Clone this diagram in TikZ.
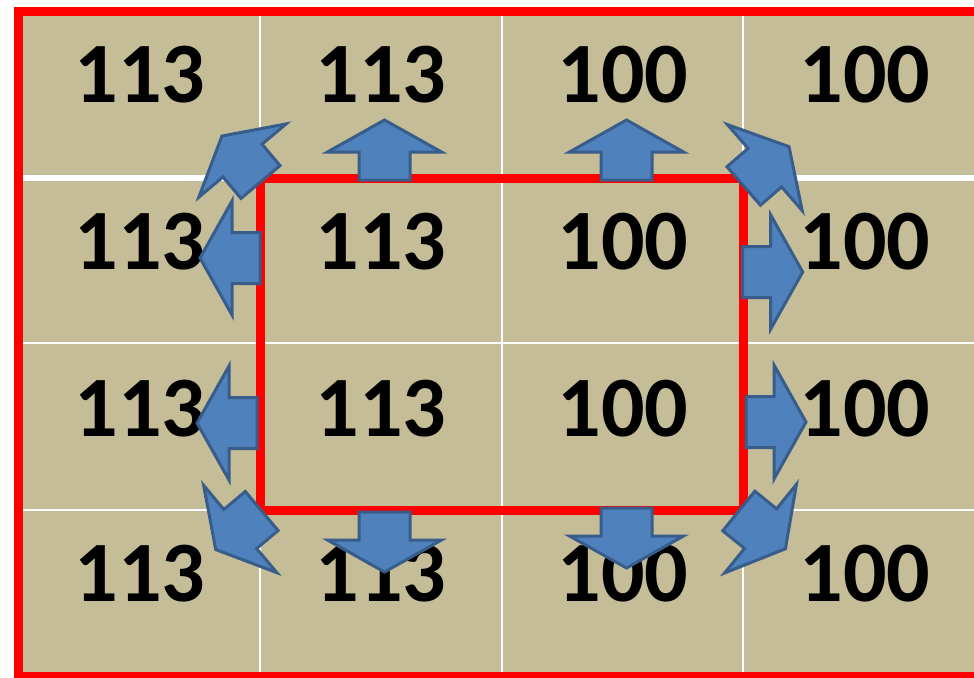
\documentclass[tikz,border=0pt]{standalone}
\usepackage{fontspec}
\setmainfont{Carlito}
\usepackage{xcolor}
\definecolor{cellTan}{HTML}{C4BD97}
\definecolor{arrowBlue}{HTML}{4F81BD}
\definecolor{arrowEdge}{HTML}{385D8A}

\tikzset{
  cellnum/.style={font=\fontsize{86}{90}\selectfont\bfseries, inner sep=0pt, text=black},
  blockarrow/.style={fill=arrowBlue, draw=arrowEdge, line width=3pt, line join=miter},
}

\begin{document}
\begin{tikzpicture}[x=1pt,y=-1pt]
  \useasboundingbox (0,0) rectangle (974,677);
  \clip (0,0) rectangle (974,677);

  % cells
  \fill[cellTan] (18,12) rectangle (986,676);

  % white grid lines
  \foreach \x in {260,502,743}
    \draw[white, line width=2.5pt] (\x,12) -- (\x,676);
  \draw[white, line width=6.5pt] (18,178) -- (986,178);
  \foreach \y in {343,510}
    \draw[white, line width=2.5pt] (18,\y) -- (986,\y);

  % outer and inner red frames
  \draw[red, line width=9pt] (18,12) rectangle (986,676);
  \draw[red, line width=9pt] (260,178) rectangle (743,510);

  % values
  \foreach \c/\x/\v in {1/140/113, 2/381/113, 3/623/100, 4/865/100}
    \foreach \r/\y in {1/75, 2/242, 3/409, 4/574}
      \node[cellnum] (n\r\c) at (\x,\y) {\v};

  % arrows: tail point and direction
  \foreach \x/\y/\a in {384.5/180/90, 626.5/180/90,
                        384.5/512/-90, 626.5/508/-90,
                        260/258/180, 257/423/180,
                        742.7/272/0, 746/422/0,
                        260.5/182/130, 743.7/186/41,
                        261.7/511/220, 738.8/511/-39}
  {
    \begin{scope}[shift={(\x,\y)}, rotate=\a]
      \draw[blockarrow] (0,-25.5) -- (28,-25.5) -- (28,-57) -- (60,0)
        -- (28,57) -- (28,25.5) -- (0,25.5) -- cycle;
    \end{scope}
  }

\end{tikzpicture}
\end{document}
